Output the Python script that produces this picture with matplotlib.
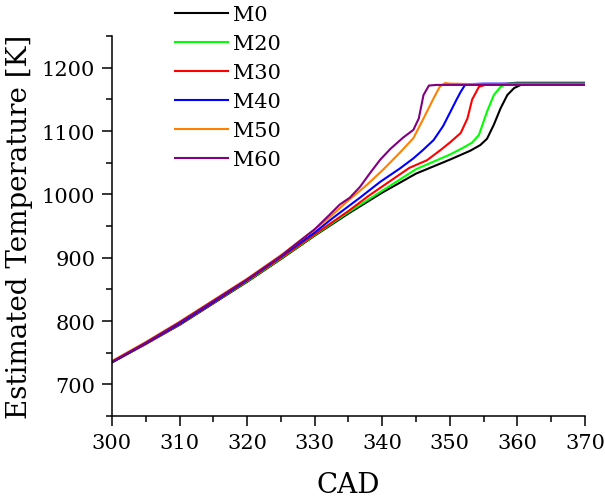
import matplotlib
matplotlib.use("Agg")
import matplotlib.pyplot as plt
from matplotlib.ticker import MultipleLocator

plt.rcParams["font.family"] = ["DejaVu Serif"]

# -----------------------------
# Data
# -----------------------------
labels = ["M0", "M20", "M30", "M40", "M50", "M60"]
colors = ["#000000", "#00FF00", "#FF0000", "#0000FF", "#FF8000", "#800080"]

cad_m0 = [300, 305, 310, 315, 320, 325, 330, 335, 340, 345, 350, 353, 354.5,
          355.5, 356.5, 357.5, 358.5, 359.5, 360.5, 362, 370]
t_m0 = [735, 764, 794, 828, 862, 898, 935, 970, 1003, 1033, 1055, 1069, 1078,
        1088, 1110, 1136, 1157, 1168, 1173, 1175, 1175]

cad_m20 = [300, 305, 310, 315, 320, 325, 330, 335, 340, 345, 350, 352, 353.3,
           354.3, 355.5, 356.5, 357.5, 358.5, 360, 370]
t_m20 = [735, 764, 795, 829, 863, 899, 936, 972, 1006, 1040, 1063, 1074, 1082,
         1094, 1131, 1157, 1170, 1175, 1177, 1177]

cad_m30 = [300, 305, 310, 315, 320, 325, 330, 335, 338, 341, 344, 346.6, 348.6,
           350, 351.6, 352.6, 353.3, 354.3, 355.5, 360, 370]
t_m30 = [735, 764, 795, 829, 864, 900, 937, 974, 998, 1020, 1042, 1054, 1070,
         1082, 1097, 1120, 1150, 1170, 1174, 1175, 1175]

cad_m40 = [300, 305, 310, 315, 320, 325, 330, 332.7, 336.7, 339.7, 342.6, 344.6,
           346, 347.6, 349, 350.1, 351, 351.6, 352.3, 355, 370]
t_m40 = [735, 765, 796, 830, 865, 902, 940, 963, 995, 1020, 1041, 1057,
         1070, 1086, 1108, 1131, 1150, 1162, 1174, 1175, 1175]

cad_m50 = [300, 305, 310, 315, 320, 325, 330, 331.8, 334.7, 337.7, 340.2, 342.6,
           344.6, 346.1, 347.6, 348.5, 349.3, 350, 355, 370]
t_m50 = [737, 767, 799, 833, 867, 904, 945, 960, 988, 1015, 1040, 1066,
         1089, 1120, 1152, 1170, 1176, 1175, 1174, 1174]

cad_m60 = [300, 305, 310, 315, 320, 325, 330, 332.2, 333.7, 335.2, 336.7, 338.2,
           339.7, 341.2, 343.1, 344.6, 345.4, 346.1, 346.9, 348, 370]
t_m60 = [736, 766, 798, 832, 866, 903, 945, 968, 984, 995, 1012, 1034,
         1055, 1072, 1090, 1102, 1120, 1157, 1172, 1173, 1173]

series = [(cad_m0, t_m0), (cad_m20, t_m20), (cad_m30, t_m30),
          (cad_m40, t_m40), (cad_m50, t_m50), (cad_m60, t_m60)]

# -----------------------------
# Figure
# -----------------------------
fig = plt.figure(figsize=(6.05, 5.02), dpi=100)
ax = fig.add_axes([0.185, 0.169, 0.782, 0.757])

for (x, y), lab, col in zip(series, labels, colors):
    ax.plot(x, y, color=col, lw=1.5, label=lab)

ax.set_xlim(300, 370)
ax.set_ylim(650, 1250)
ax.xaxis.set_major_locator(MultipleLocator(10))
ax.xaxis.set_minor_locator(MultipleLocator(5))
ax.yaxis.set_major_locator(MultipleLocator(100))
ax.yaxis.set_minor_locator(MultipleLocator(50))
ax.set_yticks([700, 800, 900, 1000, 1100, 1200])

ax.spines["top"].set_visible(False)
ax.spines["right"].set_visible(False)
for s in ("left", "bottom"):
    ax.spines[s].set_linewidth(1.1)

ax.tick_params(which="major", direction="out", length=7, width=1.1,
               labelsize=15, pad=5)
ax.tick_params(which="minor", direction="out", length=4, width=1.1)

ax.set_xlabel("CAD", fontsize=20, labelpad=14)
ax.set_ylabel("Estimated Temperature [K]", fontsize=20, labelpad=6)

fig.legend(loc="upper left", bbox_to_anchor=(0.289, 0.988), frameon=False,
           fontsize=15, handlelength=2.55, handletextpad=0.25,
           labelspacing=0.48, borderpad=0, borderaxespad=0)

fig.savefig("out.png", dpi=100)
